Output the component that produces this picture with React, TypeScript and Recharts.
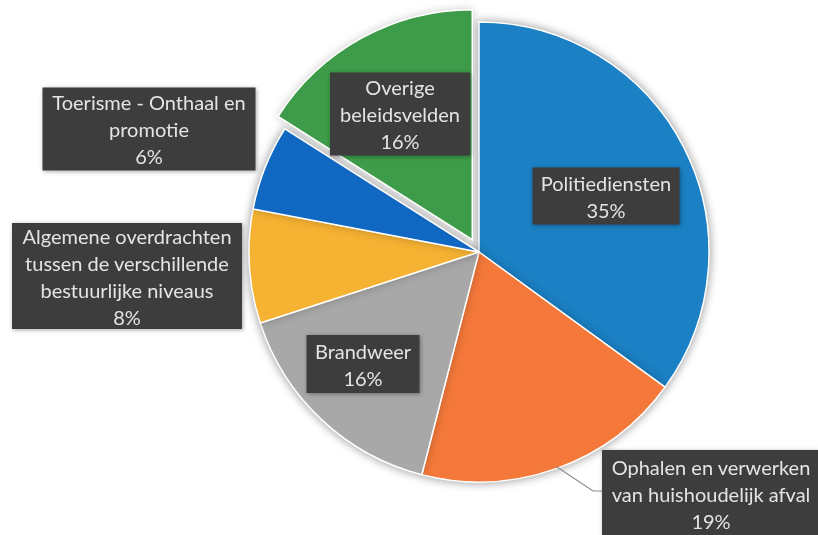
import React from 'react';
import { PieChart, Pie, Cell } from 'recharts';

// ---- data ----
const categories = [
  'Politiediensten',
  'Ophalen en verwerken\nvan huishoudelijk afval',
  'Brandweer',
  'Algemene overdrachten\ntussen de verschillende\nbestuurlijke niveaus',
  'Toerisme - Onthaal en\npromotie',
  'Overige\nbeleidsvelden',
];
const shares = [35, 19, 16, 8, 6, 16];
const explodedIndex = 5;

// ---- styles ----
const colors = ['#1b80c4', '#f4783a', '#a8a8a8', '#f6b232', '#1168c2', '#3e9b49'];
const CX = 479;
const CY = 252;
const R = 230;
const EXPLODE = 14;
const LINE_H = 27;
const FONT = 'Lato, "Noto Sans", sans-serif';

// label box layout: centre offset from pie centre, box size
const labelLayout = [
  { dx: 127, dy: -56, w: 147, h: 57 },
  { dx: 232, dy: 242, w: 218, h: 88 },
  { dx: -116, dy: 112, w: 113, h: 58 },
  { dx: -352, dy: 24, w: 230, h: 106 },
  { dx: -330, dy: -123, w: 213, h: 83 },
  { dx: -79, dy: -138, w: 140, h: 83 },
];

const data = categories.map((name, i) => ({ name, value: shares[i] }));

const total = shares.reduce((a, b) => a + b, 0);
const before = shares.slice(0, explodedIndex).reduce((a, b) => a + b, 0);
const midFrac = (before + shares[explodedIndex] / 2) / total;
const midRad = midFrac * 2 * Math.PI; // clockwise from top
const EX_DX = Math.sin(midRad) * EXPLODE;
const EX_DY = -Math.cos(midRad) * EXPLODE;

const RAD = Math.PI / 180;

const renderLabel = (props: any) => {
  const { index, percent, midAngle } = props;
  const L = labelLayout[index];
  const bx = CX + L.dx;
  const by = CY + L.dy;
  const lines = [...categories[index].split('\n'), `${Math.round(percent * 100)}%`];
  const n = lines.length;
  let leader = null;
  if (index === 1) {
    const sx = CX + Math.cos(-midAngle * RAD) * (R - 2);
    const sy = CY + Math.sin(-midAngle * RAD) * (R - 2);
    const left = bx - L.w / 2;
    leader = (
      <polyline
        points={`${sx},${sy} ${left - 9},${by - 3} ${left},${by - 3}`}
        fill="none"
        stroke="#8c8c8c"
        strokeWidth={1.2}
      />
    );
  }
  return (
    <g key={`lbl-${index}`}>
      {leader}
      <rect
        x={bx - L.w / 2}
        y={by - L.h / 2}
        width={L.w}
        height={L.h}
        fill="#3d3d3d"
        style={{ filter: 'drop-shadow(1px 1px 2px rgba(0,0,0,0.35))' }}
      />
      {lines.map((t, i) => (
        <text
          key={i}
          x={bx}
          y={by + (i - (n - 1) / 2) * LINE_H}
          textAnchor="middle"
          dominantBaseline="central"
          fill="#e4e4e4"
          fontFamily={FONT}
          fontSize={20}
        >
          {t}
        </text>
      ))}
    </g>
  );
};

export default function App() {
  return (
    <div style={{ position: 'absolute', left: 0, top: 0, width: 818, height: 535, background: '#fff', overflow: 'hidden' }}>
      <style>{`.pie-base { filter: drop-shadow(0 0 5px rgba(0,0,0,0.22)); }`}</style>
      <PieChart width={818} height={535} margin={{ top: 0, right: 0, bottom: 0, left: 0 }}>
        <Pie
          className="pie-base"
          data={data}
          dataKey="value"
          nameKey="name"
          cx={CX}
          cy={CY}
          outerRadius={R}
          startAngle={90}
          endAngle={-270}
          isAnimationActive={false}
          label={false}
          labelLine={false}
        >
          {data.map((_, i) => (
            <Cell
              key={i}
              fill={i === explodedIndex ? 'transparent' : colors[i]}
              stroke={i === explodedIndex ? 'none' : '#ffffff'}
              strokeWidth={1.5}
            />
          ))}
        </Pie>
        <Pie
          data={data}
          dataKey="value"
          nameKey="name"
          cx={CX + EX_DX}
          cy={CY + EX_DY}
          outerRadius={R}
          startAngle={90}
          endAngle={-270}
          isAnimationActive={false}
          label={renderLabel}
          labelLine={false}
        >
          {data.map((_, i) => (
            <Cell
              key={i}
              fill={i === explodedIndex ? colors[i] : 'transparent'}
              stroke={i === explodedIndex ? '#ffffff' : 'none'}
              strokeWidth={1.5}
              style={i === explodedIndex ? { filter: 'drop-shadow(0 0 4px rgba(0,0,0,0.2))' } : undefined}
            />
          ))}
        </Pie>
      </PieChart>
    </div>
  );
}
